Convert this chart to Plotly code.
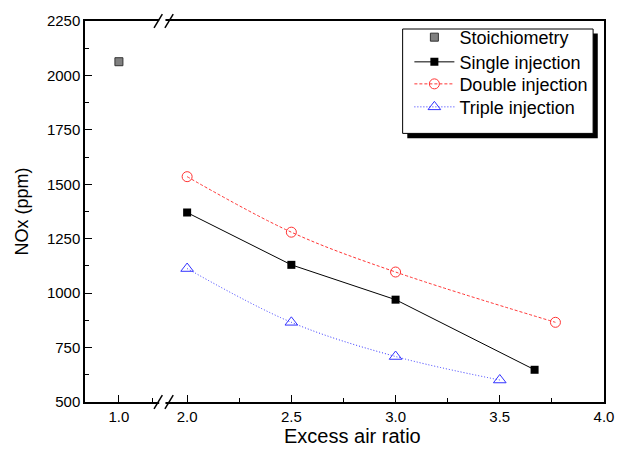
import plotly.graph_objects as go

# ---- data ----
stoich_x = [1.0]
stoich_y = [2063]

single_x = [2.0, 2.5, 3.0, 3.667]
single_y = [1370, 1130, 970, 648]

double_x = [2.0, 2.5, 3.0, 3.767]
double_y = [1535, 1280, 1097, 866]

triple_x = [2.0, 2.5, 3.0, 3.5]
triple_y = [1113, 866, 709, 601]

y_ticks = [500, 750, 1000, 1250, 1500, 1750, 2000, 2250]

FONT = "Liberation Sans, Arial, sans-serif"

fig = go.Figure()

fig.add_trace(go.Scatter(
    x=stoich_x, y=stoich_y, mode="markers", name="Stoichiometry",
    marker=dict(symbol="square", size=8, color="#808080",
                line=dict(color="#333333", width=1)),
    xaxis="x", yaxis="y", legend="legend"))

fig.add_trace(go.Scatter(
    x=single_x, y=single_y, mode="lines+markers", name="Single injection",
    line=dict(color="black", width=1),
    marker=dict(symbol="square", size=8, color="black"),
    xaxis="x2", yaxis="y2", legend="legend2"))

fig.add_trace(go.Scatter(
    x=double_x, y=double_y, mode="lines+markers", name="Double injection",
    line=dict(color="#ff3333", width=1, dash="3px,2px", shape="spline"),
    marker=dict(symbol="circle-open", size=10, color="#ff3333", line=dict(width=1)),
    xaxis="x2", yaxis="y2", legend="legend3"))

fig.add_trace(go.Scatter(
    x=triple_x, y=triple_y, mode="lines+markers", name="Triple injection",
    line=dict(color="#3333ff", width=1, dash="1px,2px", shape="spline"),
    marker=dict(symbol="triangle-up-open", size=11, color="#3333ff", line=dict(width=1)),
    xaxis="x2", yaxis="y2", legend="legend4"))

brk = 0.149
axis_common = dict(
    showline=True, linecolor="black", linewidth=1.5, mirror=True,
    ticks="inside", ticklen=7, tickwidth=1.2, tickcolor="black",
    showgrid=False, zeroline=False, tickformat=".1f",
    tickfont=dict(family=FONT, size=15, color="black"),
    minor=dict(ticks="inside", ticklen=4, tickwidth=1.2, tickcolor="black", dtick=0.25),
)

legend_style = dict(x=0.625, xanchor="left", yanchor="middle",
                    bgcolor="rgba(0,0,0,0)", borderwidth=0,
                    font=dict(family=FONT, size=18, color="black"),
                    itemwidth=40)

fig.update_layout(
    width=626, height=454,
    margin=dict(l=85, r=18, t=16, b=52),
    plot_bgcolor="white", paper_bgcolor="white",
    font=dict(family=FONT, size=15, color="black"),
    xaxis=dict(domain=[0, brk], range=[0.75, 1.32], dtick=0.5, tick0=0, anchor="y", **axis_common),
    xaxis2=dict(domain=[brk, 1], range=[1.881, 4.0], dtick=0.5, tick0=0, anchor="y2", **axis_common),
    yaxis=dict(domain=[0, 1], range=[500, 2250], anchor="x",
               tickvals=y_ticks, showline=True, linecolor="black", linewidth=1.5,
               ticks="inside", ticklen=7, tickwidth=1.2, tickcolor="black",
               showgrid=False, zeroline=False,
               tickfont=dict(family=FONT, size=15, color="black"),
               minor=dict(ticks="inside", ticklen=4, tickwidth=1.2, tickcolor="black", dtick=125),
               title=dict(text="NOx (ppm)", font=dict(family=FONT, size=18), standoff=14)),
    yaxis2=dict(domain=[0, 1], matches="y", anchor="x2", side="right",
                showline=True, linecolor="black", linewidth=1.5,
                showticklabels=False, ticks="", showgrid=False, zeroline=False),
    showlegend=True,
    legend=dict(y=0.9568, **legend_style),
    legend2=dict(y=0.8920, **legend_style),
    legend3=dict(y=0.8342, **legend_style),
    legend4=dict(y=0.7739, **legend_style),
)

# axis title for the broken x axis
fig.add_annotation(text="Excess air ratio", xref="paper", yref="paper",
                   x=0.516, y=0, yshift=-21, showarrow=False, yanchor="top",
                   font=dict(family=FONT, size=20, color="black"))

# legend box with shadow
fig.add_shape(type="rect", xref="paper", yref="paper", x0=0.621, x1=0.988, y0=0.692, y1=0.967,
              fillcolor="black", line=dict(width=0), layer="above")
fig.add_shape(type="rect", xref="paper", yref="paper", x0=0.612, x1=0.979, y0=0.705, y1=0.979,
              fillcolor="white", line=dict(color="black", width=1), layer="above")

# axis break marks
for yb in (0, 1):
    fig.add_shape(type="rect", xref="paper", yref="paper",
                  x0=brk - 0.006, x1=brk + 0.006, y0=yb - 0.006, y1=yb + 0.006,
                  fillcolor="white", line=dict(width=0), layer="above")
    for dx in (-0.012, 0.009):
        fig.add_shape(type="line", xref="paper", yref="paper",
                      x0=brk + dx - 0.004, x1=brk + dx + 0.012, y0=yb - 0.018, y1=yb + 0.018,
                      line=dict(color="black", width=1.5), layer="above")

fig.write_html("out.html")
